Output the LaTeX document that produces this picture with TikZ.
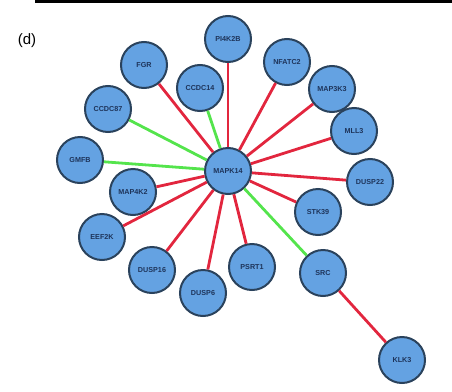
\documentclass[tikz,border=0pt]{standalone}
\usepackage{fontspec}
\setmainfont{Liberation Sans}
\definecolor{nodefill}{RGB}{100,162,226}
\definecolor{nodeline}{RGB}{42,66,92}
\definecolor{labelcol}{RGB}{30,52,90}
\definecolor{edgered}{RGB}{226,38,62}
\definecolor{edgegreen}{RGB}{84,228,76}
\tikzset{
  gene/.style={circle, draw=nodeline, line width=2pt, fill=nodefill,
    minimum size=46pt, inner sep=0pt, text=labelcol,
    font=\fontsize{7.2}{8}\selectfont\bfseries},
  inhib/.style={draw=edgered, line width=2.8pt},
  activ/.style={draw=edgegreen, line width=2.8pt}
}
\begin{document}
\begin{tikzpicture}[x=1pt,y=-1pt]
\useasboundingbox (0,0) rectangle (452,391);
% rule across the top
\fill[black] (35,0) rectangle (452,3);
\node[font=\fontsize{15}{17}\selectfont] (panel) at (27,41) {(d)};
% genes
\node[gene] (mapk14) at (228,171) {MAPK14};
\node[gene] (pi4k2b) at (228,39) {PI4K2B};
\node[gene] (fgr) at (144,65) {FGR};
\node[gene] (nfatc2) at (287,62) {NFATC2};
\node[gene] (ccdc14) at (200,88) {CCDC14};
\node[gene] (map3k3) at (332,89) {MAP3K3};
\node[gene] (ccdc87) at (108,109) {CCDC87};
\node[gene] (mll3) at (354,131) {MLL3};
\node[gene] (gmfb) at (80,160) {GMFB};
\node[gene] (dusp22) at (370,182) {DUSP22};
\node[gene] (map4k2) at (133,192) {MAP4K2};
\node[gene] (stk39) at (318,212) {STK39};
\node[gene] (eef2k) at (102,237) {EEF2K};
\node[gene] (dusp16) at (152,270) {DUSP16};
\node[gene] (psrt1) at (252,267) {PSRT1};
\node[gene] (src) at (323,273) {SRC};
\node[gene] (dusp6) at (203,293) {DUSP6};
\node[gene] (klk3) at (402,360) {KLK3};
% interactions
\draw[inhib] (mapk14) -- (pi4k2b);
\draw[inhib] (mapk14) -- (fgr);
\draw[inhib] (mapk14) -- (nfatc2);
\draw[inhib] (mapk14) -- (map3k3);
\draw[inhib] (mapk14) -- (mll3);
\draw[inhib] (mapk14) -- (dusp22);
\draw[inhib] (mapk14) -- (map4k2);
\draw[inhib] (mapk14) -- (stk39);
\draw[inhib] (mapk14) -- (eef2k);
\draw[inhib] (mapk14) -- (dusp16);
\draw[inhib] (mapk14) -- (psrt1);
\draw[inhib] (mapk14) -- (dusp6);
\draw[inhib] (src) -- (klk3);
\draw[activ] (mapk14) -- (ccdc14);
\draw[activ] (mapk14) -- (ccdc87);
\draw[activ] (mapk14) -- (gmfb);
\draw[activ] (mapk14) -- (src);
\end{tikzpicture}
\end{document}
